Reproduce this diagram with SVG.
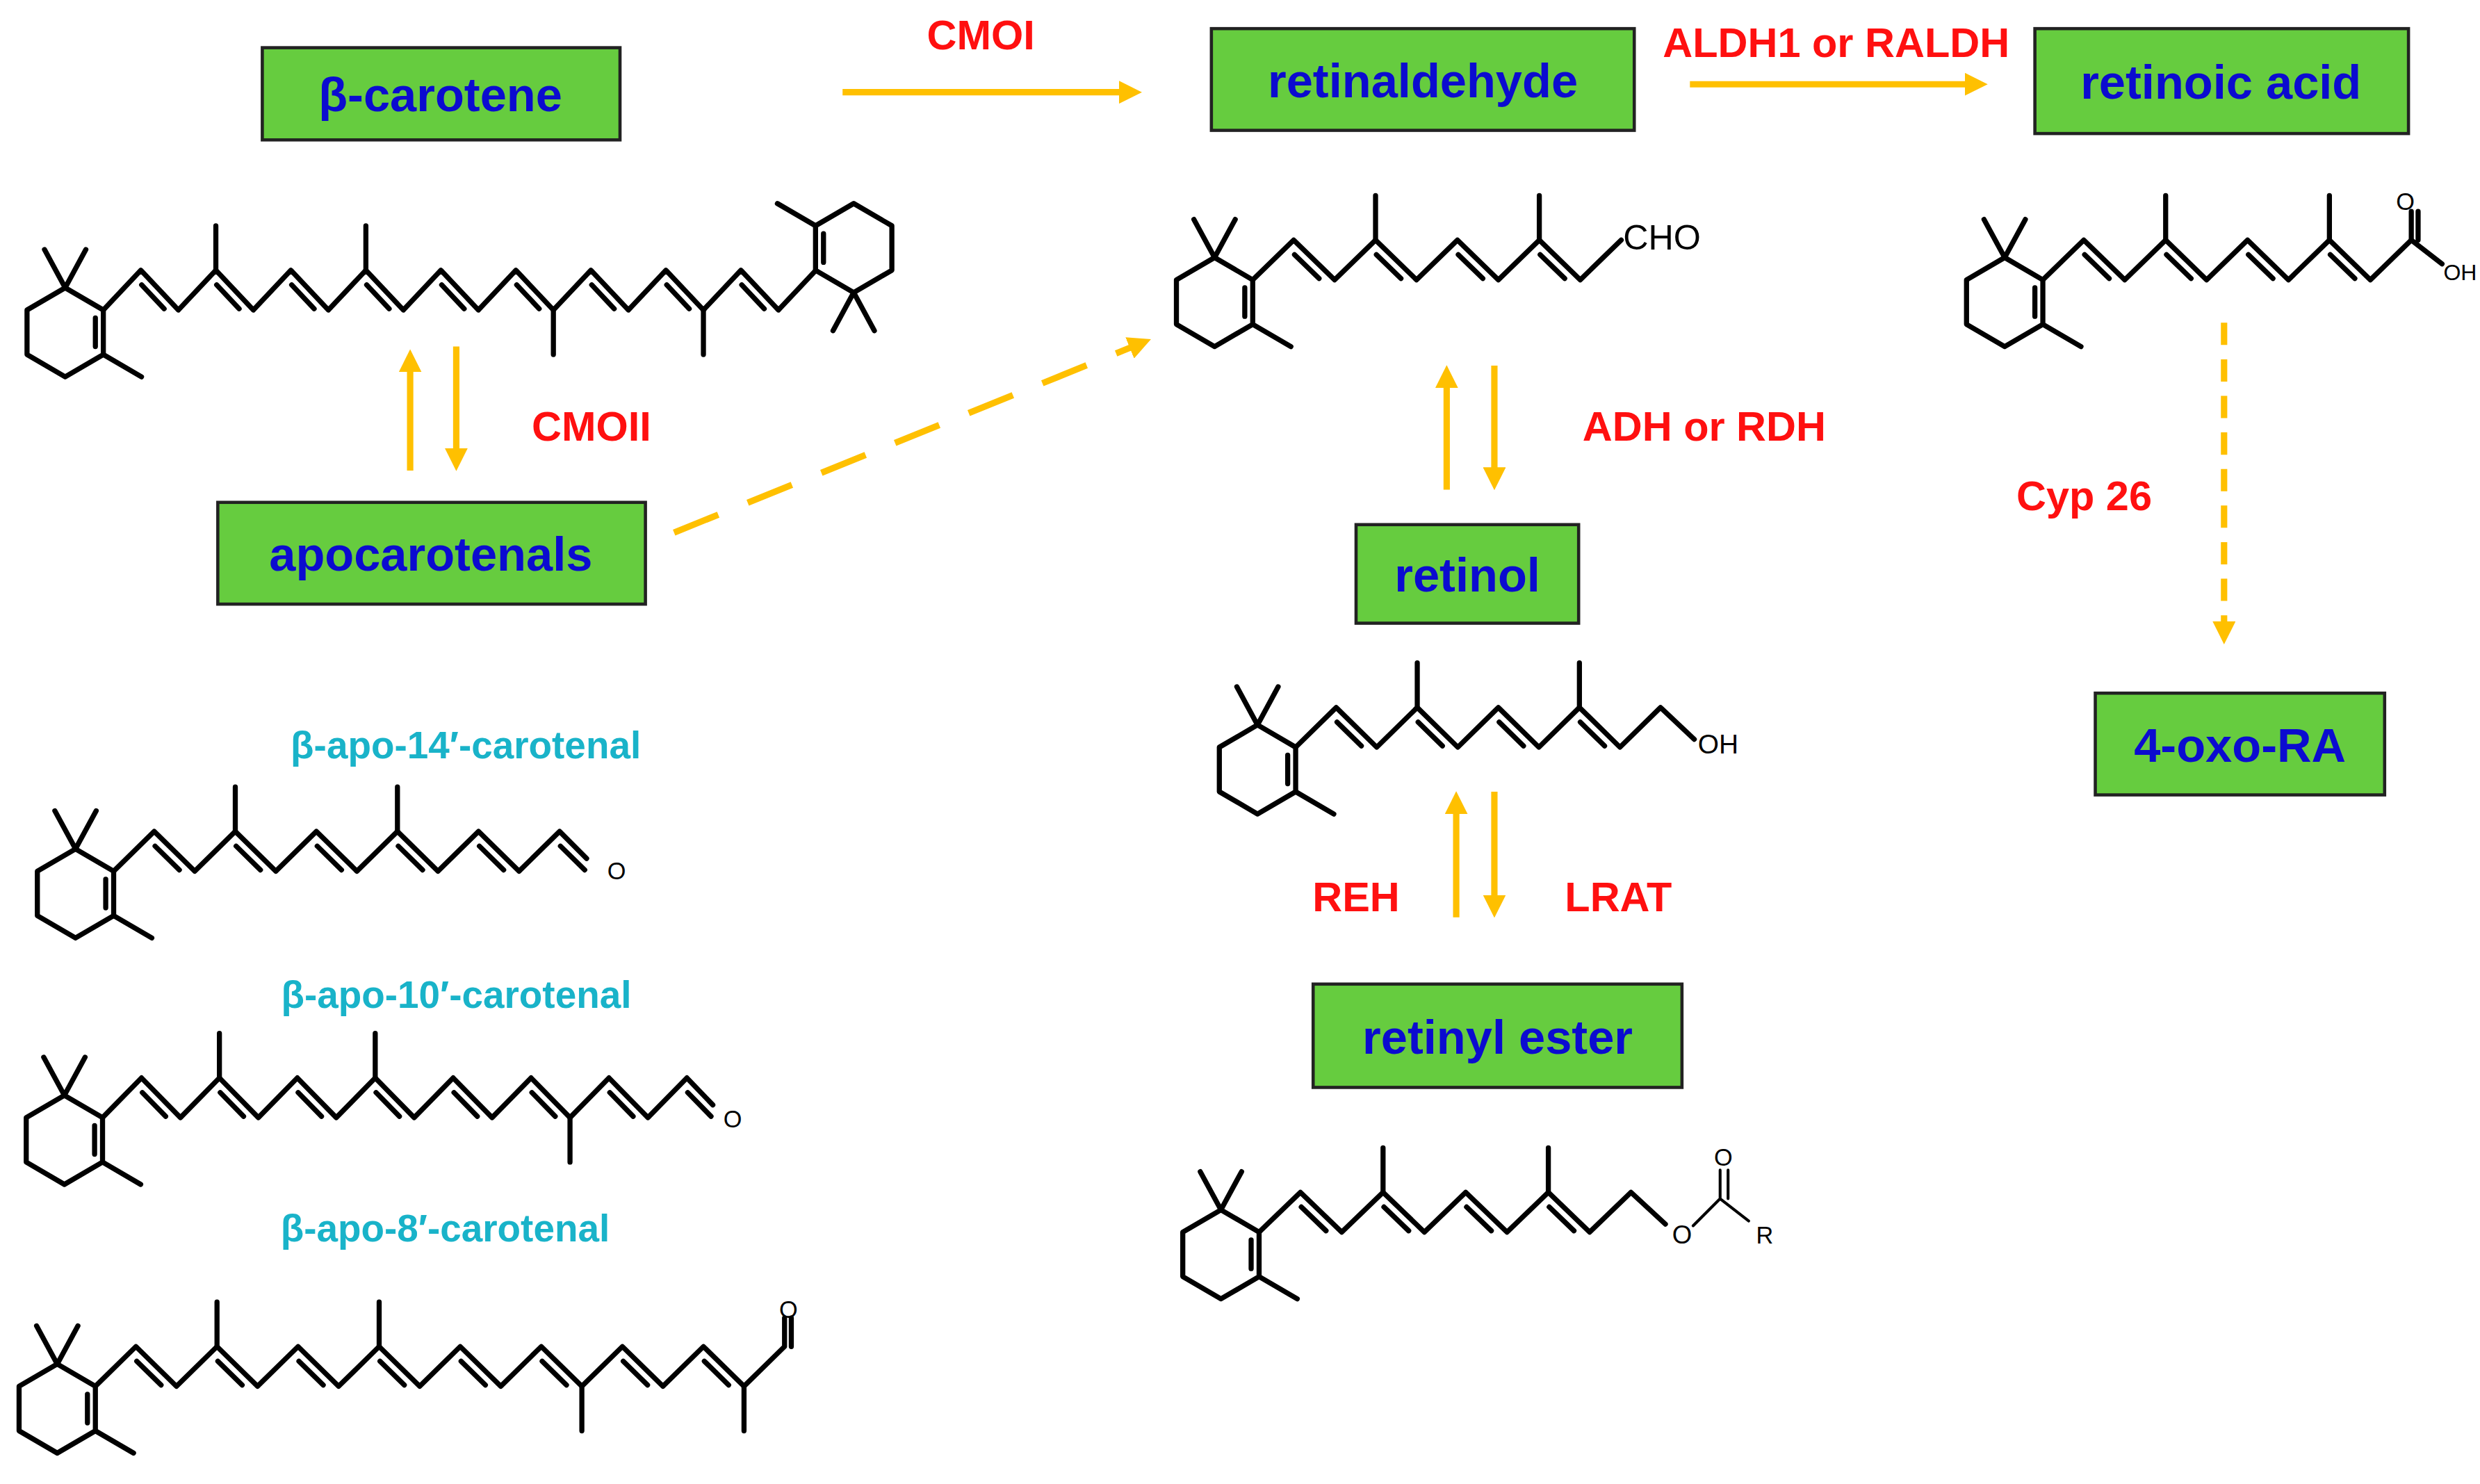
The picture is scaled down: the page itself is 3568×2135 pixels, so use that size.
<svg xmlns="http://www.w3.org/2000/svg" xmlns:xlink="http://www.w3.org/1999/xlink" width="3568" height="2135" viewBox="0 0 3568 2135">
<style>
.box{fill:#66cc3f;stroke:#222;stroke-width:2}
.bt{font-family:"Liberation Sans",Arial,sans-serif;font-weight:bold;font-size:30px;fill:#0b0bd0;text-anchor:middle}
.rt{font-family:"Liberation Sans",Arial,sans-serif;font-weight:bold;font-size:26px;fill:#ff1010;text-anchor:middle}
.ct{font-family:"Liberation Sans",Arial,sans-serif;font-weight:bold;font-size:24px;fill:#19b3c9;text-anchor:middle}
.at{font-family:"Liberation Sans",Arial,sans-serif;font-size:16px;fill:#000}
.m{fill:none;stroke:#000;stroke-width:3.2;stroke-linejoin:round;stroke-linecap:round}
.c{fill:none;stroke:#000;stroke-width:7.3;stroke-linejoin:round;stroke-linecap:round;vector-effect:non-scaling-stroke}
.ar{fill:none;stroke:#ffc000;stroke-width:4}
.da{fill:none;stroke:#ffc000;stroke-width:4;stroke-dasharray:30 20}
.dd{fill:none;stroke:#ffc000;stroke-width:4;stroke-dasharray:14 9}
</style>
<defs>
<marker id="ah" viewBox="0 0 10 10" refX="7" refY="5" markerWidth="3.6" markerHeight="3.6" orient="auto"><path d="M0,0 L10,5 L0,10 z" fill="#ffc000"/></marker>
<g id="ring" class="m"><polygon points="0,0 0,28 -24,42 -48,28 -48,0 -24,-14"/><path d="M-24,-14 L-37,-38 M-24,-14 L-11,-38 M0,28 L24,42 M-5,5 L-5,23"/></g>
<path id="d" class="c" d="M0.5,9.2 L14.9,24.2"/>
</defs>
<rect width="3568" height="2135" fill="#fff"/>
<g transform="scale(2.2872)">
<g id="connectors">
<line class="ar" x1="530" y1="58" x2="714" y2="58" marker-end="url(#ah)"/>
<line class="ar" x1="1063" y1="53" x2="1246" y2="53" marker-end="url(#ah)"/>
<line class="ar" x1="258" y1="296" x2="258" y2="224" marker-end="url(#ah)"/>
<line class="ar" x1="287" y1="218" x2="287" y2="292" marker-end="url(#ah)"/>
<line class="da" x1="424" y1="335" x2="720" y2="215" marker-end="url(#ah)"/>
<line class="ar" x1="910" y1="308" x2="910" y2="234" marker-end="url(#ah)"/>
<line class="ar" x1="940" y1="230" x2="940" y2="304" marker-end="url(#ah)"/>
<line class="ar" x1="916" y1="577" x2="916" y2="502" marker-end="url(#ah)"/>
<line class="ar" x1="940" y1="498" x2="940" y2="573" marker-end="url(#ah)"/>
<line class="dd" x1="1399" y1="203" x2="1399" y2="401" marker-end="url(#ah)"/>
</g>
<g id="labels">
<text class="rt" x="617" y="31">CMOI</text>
<text class="rt" x="1155" y="36">ALDH1 or RALDH</text>
<text class="rt" x="372" y="277">CMOII</text>
<text class="rt" x="1072" y="277">ADH or RDH</text>
<text class="rt" x="1311" y="321">Cyp 26</text>
<text class="rt" x="853" y="573">REH</text>
<text class="rt" x="1018" y="573">LRAT</text>
<text class="ct" x="293" y="477">β-apo-14′-carotenal</text>
<text class="ct" x="287" y="634">β-apo-10′-carotenal</text>
<text class="ct" x="280" y="781">β-apo-8′-carotenal</text>
</g>
<g id="n-bcarotene"><rect class="box" x="165" y="30" width="225" height="58"/><text class="bt" x="277" y="70">β-carotene</text></g>
<g id="n-retinaldehyde"><rect class="box" x="762" y="18" width="266" height="64"/><text class="bt" x="895" y="61">retinaldehyde</text></g>
<g id="n-retinoic"><rect class="box" x="1280" y="18" width="235" height="66"/><text class="bt" x="1397" y="62">retinoic acid</text></g>
<g id="n-apocarotenals"><rect class="box" x="137" y="316" width="269" height="64"/><text class="bt" x="271" y="359">apocarotenals</text></g>
<g id="n-retinol"><rect class="box" x="853" y="330" width="140" height="62"/><text class="bt" x="923" y="372">retinol</text></g>
<g id="n-oxoRA"><rect class="box" x="1318" y="436" width="182" height="64"/><text class="bt" x="1409" y="479">4-oxo-RA</text></g>
<g id="n-retinylester"><rect class="box" x="826" y="619" width="232" height="65"/><text class="bt" x="942" y="663">retinyl ester</text></g>

<g id="mol-bcarotene">
<use xlink:href="#ring" transform="translate(65,195)"/>
<use xlink:href="#ring" transform="translate(513,170) rotate(180)"/>
<g transform="translate(65,195) scale(0.983,1)">
<polyline class="c" points="0,0 24,-25 48,0 72,-25 96,0 120,-25 144,0 168,-25 192,0 216,-25 240,0 264,-25 288,0 312,-25 336,0 360,-25 384,0 408,-25 432,0 456,-25"/>
<path class="c" d="M72,-25 L72,-53 M168,-25 L168,-53 M288,0 L288,28 M384,0 L384,28"/>
<use xlink:href="#d" x="24" y="-25"/><use xlink:href="#d" x="72" y="-25"/><use xlink:href="#d" x="120" y="-25"/><use xlink:href="#d" x="168" y="-25"/><use xlink:href="#d" x="216" y="-25"/><use xlink:href="#d" x="264" y="-25"/><use xlink:href="#d" x="312" y="-25"/><use xlink:href="#d" x="360" y="-25"/><use xlink:href="#d" x="408" y="-25"/>
</g>
</g>

<g id="mol-retinal">
<use xlink:href="#ring" transform="translate(788,176)"/>
<g transform="translate(788,176) scale(1.073,1)">
<polyline class="c" points="0,0 24,-25 48,0 72,-25 96,0 120,-25 144,0 168,-25 192,0 216,-25"/>
<path class="c" d="M72,-25 L72,-53 M168,-25 L168,-53"/>
<use xlink:href="#d" x="24" y="-25"/><use xlink:href="#d" x="72" y="-25"/><use xlink:href="#d" x="120" y="-25"/><use xlink:href="#d" x="168" y="-25"/>
</g>
<text class="at" x="1021" y="157" style="font-size:22px">CHO</text>
</g>

<g id="mol-retinoic">
<use xlink:href="#ring" transform="translate(1285,176)"/>
<g transform="translate(1285,176) scale(1.073,1)">
<polyline class="c" points="0,0 24,-25 48,0 72,-25 96,0 120,-25 144,0 168,-25 192,0 216,-25"/>
<path class="c" d="M72,-25 L72,-53 M168,-25 L168,-53 M216,-25 L216,-43 M220,-25 L220,-43 M216,-25 L234,-10"/>
<use xlink:href="#d" x="24" y="-25"/><use xlink:href="#d" x="72" y="-25"/><use xlink:href="#d" x="120" y="-25"/><use xlink:href="#d" x="168" y="-25"/>
</g>
<text class="at" x="1513" y="132" style="font-size:15px" text-anchor="middle">O</text>
<text class="at" x="1537" y="176" style="font-size:14px">OH</text>
</g>

<g id="mol-retinol">
<use xlink:href="#ring" transform="translate(815,470)"/>
<g transform="translate(815,470) scale(1.0625,1)">
<polyline class="c" points="0,0 24,-25 48,0 72,-25 96,0 120,-25 144,0 168,-25 192,0 216,-25 236,-5"/>
<path class="c" d="M72,-25 L72,-53 M168,-25 L168,-53"/>
<use xlink:href="#d" x="24" y="-25"/><use xlink:href="#d" x="72" y="-25"/><use xlink:href="#d" x="120" y="-25"/><use xlink:href="#d" x="168" y="-25"/>
</g>
<text class="at" x="1068" y="474" style="font-size:17px">OH</text>
</g>

<g id="mol-retinylester">
<use xlink:href="#ring" transform="translate(792,775)"/>
<g transform="translate(792,775) scale(1.083,1)">
<polyline class="c" points="0,0 24,-25 48,0 72,-25 96,0 120,-25 144,0 168,-25 192,0 216,-25 236,-5"/>
<path class="c" d="M72,-25 L72,-53 M168,-25 L168,-53"/>
<use xlink:href="#d" x="24" y="-25"/><use xlink:href="#d" x="72" y="-25"/><use xlink:href="#d" x="120" y="-25"/><use xlink:href="#d" x="168" y="-25"/>
</g>
<text class="at" x="1058" y="782" style="font-size:16px" text-anchor="middle">O</text>
<path class="m" d="M1065,771 L1082,754 L1082,736 M1087,754 L1087,736 M1082,754 L1100,768" style="stroke-width:1.8"/>
<text class="at" x="1084" y="733" style="font-size:15px" text-anchor="middle">O</text>
<text class="at" x="1110" y="782" style="font-size:15px" text-anchor="middle">R</text>
</g>

<g id="mol-apo14">
<use xlink:href="#ring" transform="translate(71.5,548)"/>
<g transform="translate(71.5,548) scale(1.0625,1)">
<polyline class="c" points="0,0 24,-25 48,0 72,-25 96,0 120,-25 144,0 168,-25 192,0 216,-25 240,0 264,-25 280,-8"/>
<path class="c" d="M72,-25 L72,-53 M168,-25 L168,-53"/>
<use xlink:href="#d" x="24" y="-25"/><use xlink:href="#d" x="72" y="-25"/><use xlink:href="#d" x="120" y="-25"/><use xlink:href="#d" x="168" y="-25"/><use xlink:href="#d" x="216" y="-25"/><use xlink:href="#d" x="264" y="-25"/>
</g>
<text class="at" x="382" y="553" style="font-size:15px">O</text>
</g>

<g id="mol-apo10">
<use xlink:href="#ring" transform="translate(64.5,703)"/>
<g transform="translate(64.5,703) scale(1.021,1)">
<polyline class="c" points="0,0 24,-25 48,0 72,-25 96,0 120,-25 144,0 168,-25 192,0 216,-25 240,0 264,-25 288,0 312,-25 336,0 360,-25 376,-8"/>
<path class="c" d="M72,-25 L72,-53 M168,-25 L168,-53 M288,0 L288,28"/>
<use xlink:href="#d" x="24" y="-25"/><use xlink:href="#d" x="72" y="-25"/><use xlink:href="#d" x="120" y="-25"/><use xlink:href="#d" x="168" y="-25"/><use xlink:href="#d" x="216" y="-25"/><use xlink:href="#d" x="264" y="-25"/><use xlink:href="#d" x="312" y="-25"/><use xlink:href="#d" x="360" y="-25"/>
</g>
<text class="at" x="455" y="709" style="font-size:15px">O</text>
</g>

<g id="mol-apo8">
<use xlink:href="#ring" transform="translate(60,872)"/>
<g transform="translate(60,872) scale(1.0625,1)">
<polyline class="c" points="0,0 24,-25 48,0 72,-25 96,0 120,-25 144,0 168,-25 192,0 216,-25 240,0 264,-25 288,0 312,-25 336,0 360,-25 384,0 408,-25 408,-43"/>
<path class="c" d="M72,-25 L72,-53 M168,-25 L168,-53 M288,0 L288,28 M384,0 L384,28 M412,-25 L412,-43"/>
<use xlink:href="#d" x="24" y="-25"/><use xlink:href="#d" x="72" y="-25"/><use xlink:href="#d" x="120" y="-25"/><use xlink:href="#d" x="168" y="-25"/><use xlink:href="#d" x="216" y="-25"/><use xlink:href="#d" x="264" y="-25"/><use xlink:href="#d" x="312" y="-25"/><use xlink:href="#d" x="360" y="-25"/>
</g>
<text class="at" x="496" y="829" style="font-size:15px" text-anchor="middle">O</text>
</g>
</g>
</svg>
